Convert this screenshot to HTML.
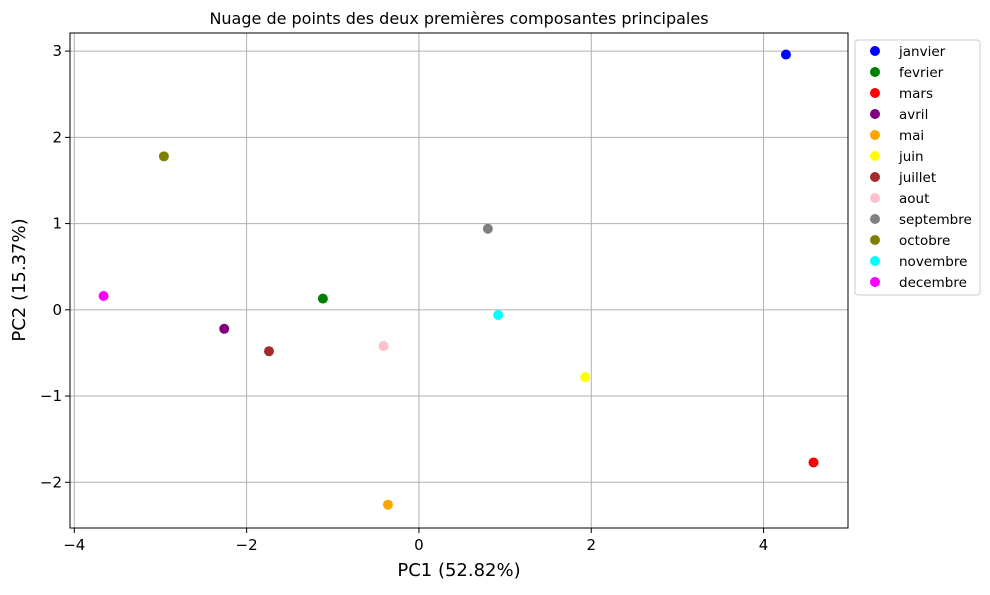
<!DOCTYPE html>
<html><head><meta charset="utf-8"><style>
body{margin:0;background:#fff;width:990px;height:590px;overflow:hidden}
svg{font-family:"DejaVu Sans","Liberation Sans",sans-serif}
</style></head><body>
<svg id="chart" width="990" height="590"></svg>
<script>
const months=["janvier","fevrier","mars","avril","mai","juin","juillet","aout","septembre","octobre","novembre","decembre"];
const colors=["blue","green","red","purple","orange","yellow","brown","pink","gray","olive","cyan","magenta"];
const pc1=[4.26,-1.115,4.58,-2.26,-0.36,1.93,-1.74,-0.41,0.80,-2.96,0.92,-3.66];
const pc2=[2.96,0.13,-1.77,-0.22,-2.26,-0.78,-0.48,-0.42,0.94,1.78,-0.06,0.16];
const xTicks=[-4,-2,0,2,4];
const yTicks=[-2,-1,0,1,2,3];
const L=70,R=848,T=33,B=528,xmin=-4.05,xmax=4.98,ymin=-2.53,ymax=3.21;
const sx=v=>L+(v-xmin)/(xmax-xmin)*(R-L);
const sy=v=>B-(v-ymin)/(ymax-ymin)*(B-T);
const svg=document.getElementById('chart');
const NS="http://www.w3.org/2000/svg";
function mk(tag,attrs,parent){const e=document.createElementNS(NS,tag);for(const k in attrs)e.setAttribute(k,attrs[k]);(parent||svg).appendChild(e);return e;}
xTicks.forEach(t=>{
 const g=mk('line',{x1:sx(t),x2:sx(t),y1:T,y2:B,stroke:'#b0b0b0','stroke-width':1});
 
 
 const tk=mk('line',{x1:sx(t),x2:sx(t),y1:B,y2:B+5,stroke:'#000'});
 
 
 const tx=mk('text',{x:sx(t),y:B+22,'text-anchor':'middle','font-size':15});
 tx.textContent=t<0?'\u2212'+(-t):String(t);
 
 
});
yTicks.forEach(t=>{
 const g=mk('line',{x1:L,x2:R,y1:sy(t),y2:sy(t),stroke:'#b0b0b0','stroke-width':1});
 
 
 const tk=mk('line',{x1:L-5,x2:L,y1:sy(t),y2:sy(t),stroke:'#000'});
 
 
 const tx=mk('text',{x:L-8,y:sy(t)+5,'text-anchor':'end','font-size':15});
 tx.textContent=t<0?'\u2212'+(-t):String(t);
 
 
});
const frame=mk('rect',{x:L,y:T,width:R-L,height:B-T,fill:'none',stroke:'#000','stroke-width':1});


months.forEach((m,i)=>{
 const c=mk('circle',{cx:sx(pc1[i]),cy:sy(pc2[i]),r:5,fill:colors[i]});
 
 
});
const title=mk('text',{x:459,y:24,'text-anchor':'middle','font-size':16});
title.textContent='Nuage de points des deux premières composantes principales';


const xl=mk('text',{x:459,y:576,'text-anchor':'middle','font-size':18});
xl.textContent='PC1 (52.82%)';


const yl=mk('text',{x:25,y:280,'text-anchor':'middle','font-size':18,transform:'rotate(-90 25 280)'});
yl.textContent='PC2 (15.37%)';


const lg=mk('rect',{x:855,y:40,width:125,height:255,rx:3,fill:'#fff',stroke:'#ccc'});


months.forEach((m,i)=>{
 const y=51+i*21;
 const c=mk('circle',{cx:875,cy:y,r:5,fill:colors[i]});
 
 
 const t=mk('text',{x:899,y:y+5,'font-size':13.5});
 t.textContent=m;
 
 
});
</script>
</body></html>
